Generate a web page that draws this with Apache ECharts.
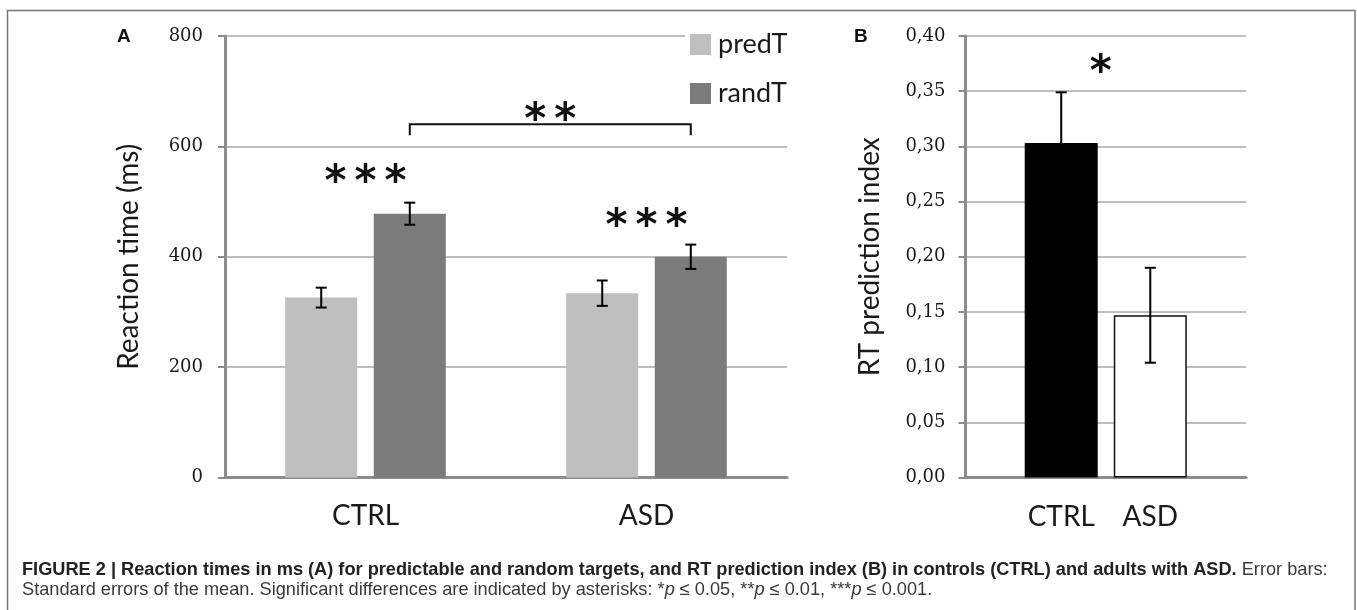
<!DOCTYPE html>
<html>
<head>
<meta charset="utf-8">
<script src="https://cdn.jsdelivr.net/npm/echarts@6/dist/echarts.min.js"></script>
<style>
  html, body { margin: 0; padding: 0; background: #fff; }
  #chart { width: 1357px; height: 610px; }
</style>
</head>
<body>
<div id="chart"></div>
<script>
// ---------- Data (panel A) ----------
const categories = ['CTRL', 'ASD'];
const predT = [326, 334];
const randT = [478, 400];
const predTErr = [18, 23];
const randTErr = [20, 22];
const groupStars = ['***', '***'];
const groupStarLevel = [553, 473];
const bracketLevel = 640;
const bracketFoot = 620;
const bracketStars = '**';
const bracketStarLevel = 666;

// ---------- Data (panel B) ----------
const groupsB = ['CTRL', 'ASD'];
const indexB = [0.303, 0.147];
const indexBErr = [0.046, 0.043];
const starB = '*';
const starBLevel = 0.376;

// ---------- Styles ----------
const AX = '#8c8c8c';
const GRID = '#a9a9a9';
const TXT = '#1a1a1a';
const LBL_FONT = 'Lato, "Open Sans", sans-serif';
const NUM_FONT = '"DejaVu Serif", serif';
const CAP_FONT = '"Liberation Sans", Arial, sans-serif';
const LETTER_FONT = '"Liberation Sans", Arial, sans-serif';
const BW_A = 72, GAP_A = 0.23;
const BW_B = 73, GAP_B = 0.22;
const OFF_A = (BW_A * (1 + GAP_A)) / 2;
const OFF_B = (BW_B * (1 + GAP_B)) / 2;
const STAR_FONT = 'bold 42px "DejaVu Sans"';
const STAR_STEP = 30;
const STAR_DY = 12;

function starTexts(str, cx, cy) {
  const n = str.length;
  const out = [];
  for (let i = 0; i < n; i++) {
    out.push({
      type: 'text',
      style: {
        text: '*', x: cx + (i - (n - 1) / 2) * STAR_STEP, y: cy + STAR_DY,
        textAlign: 'center', textVerticalAlign: 'middle',
        font: STAR_FONT, fill: '#111'
      }
    });
  }
  return out;
}

function errorSeries(xi, yi, values, errs, offset) {
  return {
    type: 'custom',
    xAxisIndex: xi, yAxisIndex: yi,
    z: 5,
    silent: true,
    data: values.map((v, i) => [i, v, errs[i]]),
    renderItem: function (params, api) {
      const c = api.value(0), v = api.value(1), e = api.value(2);
      const hi = api.coord([c, v + e]);
      const lo = api.coord([c, v - e]);
      const x = hi[0] + offset;
      const cap = 5.5;
      const st = { stroke: '#000', lineWidth: 2 };
      return {
        type: 'group',
        children: [
          { type: 'line', shape: { x1: x, y1: hi[1], x2: x, y2: lo[1] }, style: st },
          { type: 'line', shape: { x1: x - cap, y1: hi[1], x2: x + cap, y2: hi[1] }, style: st },
          { type: 'line', shape: { x1: x - cap, y1: lo[1], x2: x + cap, y2: lo[1] }, style: st }
        ]
      };
    }
  };
}

function errorSeriesB(values, errs) {
  return {
    type: 'custom',
    xAxisIndex: 1, yAxisIndex: 1,
    z: 5,
    silent: true,
    data: values.map((v, i) => [0, v, errs[i], i]),
    renderItem: function (params, api) {
      const v = api.value(1), e = api.value(2), k = api.value(3);
      const hi = api.coord([0, v + e]);
      const lo = api.coord([0, v - e]);
      const x = hi[0] + (k === 0 ? -OFF_B : OFF_B);
      const cap = 5.5;
      const st = { stroke: '#000', lineWidth: 2 };
      return {
        type: 'group',
        children: [
          { type: 'line', shape: { x1: x, y1: hi[1], x2: x, y2: lo[1] }, style: st },
          { type: 'line', shape: { x1: x - cap, y1: hi[1], x2: x + cap, y2: hi[1] }, style: st },
          { type: 'line', shape: { x1: x - cap, y1: lo[1], x2: x + cap, y2: lo[1] }, style: st }
        ]
      };
    }
  };
}

const chart = echarts.init(document.getElementById('chart'), null, { renderer: 'canvas' });

const yAxisBase = {
  type: 'value',
  axisLine: { show: true, lineStyle: { color: AX, width: 3 } },
  axisTick: { show: true, length: 7, lineStyle: { color: AX, width: 2 } },
  splitLine: { show: true, lineStyle: { color: GRID, width: 1.5 } },
  nameLocation: 'middle',
  nameGap: 82,
  nameTextStyle: { fontFamily: LBL_FONT, fontSize: 28, color: TXT }
};

const CAP_SIZE = 18.2;
const capRich = {
  b: { fontFamily: CAP_FONT, fontWeight: 'bold', fontSize: CAP_SIZE, color: '#222', lineHeight: 20 },
  r: { fontFamily: CAP_FONT, fontWeight: 'normal', fontSize: CAP_SIZE, color: '#3a3a3a', lineHeight: 20 },
  i: { fontFamily: CAP_FONT, fontWeight: 'normal', fontStyle: 'italic', fontSize: CAP_SIZE, color: '#3a3a3a', lineHeight: 20 }
};

const option = {
  backgroundColor: '#fff',
  animation: false,
  title: [
    { text: 'A', left: 117, top: 27, padding: 0,
      textStyle: { fontFamily: LETTER_FONT, fontWeight: 'bold', fontSize: 19, color: '#111' } },
    { text: 'B', left: 854, top: 27, padding: 0,
      textStyle: { fontFamily: LETTER_FONT, fontWeight: 'bold', fontSize: 19, color: '#111' } },
    {
      left: 22, top: 560, padding: 0,
      text: '{b|FIGURE 2 | Reaction times in ms (A) for predictable and random targets, and RT prediction index (B) in controls (CTRL) and adults with ASD.}{r| Error bars:}\n' +
            '{r|Standard errors of the mean. Significant differences are indicated by asterisks: *}{i|p}{r| ≤ 0.05, **}{i|p}{r| ≤ 0.01, ***}{i|p}{r| ≤ 0.001.}',
      textStyle: { fontWeight: 'normal', lineHeight: 20, rich: capRich }
    }
  ],
  legend: {
    data: ['predT', 'randT'],
    orient: 'vertical',
    left: 685, top: 26,
    padding: 5,
    backgroundColor: '#fff',
    itemWidth: 21, itemHeight: 21, itemGap: 22,
    icon: 'rect',
    textStyle: { fontFamily: LBL_FONT, fontSize: 27, color: TXT, padding: [0, 0, 0, 2] },
    selectedMode: false
  },
  grid: [
    { left: 225, right: 570, top: 36, bottom: 132.5 },
    { left: 965.5, right: 111, top: 36, bottom: 132.5 }
  ],
  xAxis: [
    {
      gridIndex: 0, type: 'category', data: categories,
      axisLine: { lineStyle: { color: AX, width: 3 } },
      axisTick: { show: false },
      axisLabel: { fontFamily: LBL_FONT, fontSize: 28, color: TXT, margin: 24 }
    },
    {
      gridIndex: 1, type: 'category', data: [''],
      axisLine: { lineStyle: { color: AX, width: 3 } },
      axisTick: { show: false },
      axisLabel: { show: false }
    }
  ],
  yAxis: [
    Object.assign({}, yAxisBase, {
      gridIndex: 0, min: 0, max: 800, interval: 200,
      name: 'Reaction time (ms)',
      axisLabel: { fontFamily: NUM_FONT, fontSize: 18, color: TXT, margin: 22 }
    }),
    Object.assign({}, yAxisBase, {
      gridIndex: 1, min: 0, max: 0.4, interval: 0.05,
      name: 'RT prediction index',
      axisLabel: {
        fontFamily: NUM_FONT, fontSize: 18, color: TXT, margin: 20,
        formatter: v => v.toFixed(2).replace('.', ',')
      }
    })
  ],
  series: [
    {
      name: 'predT', type: 'bar', xAxisIndex: 0, yAxisIndex: 0,
      data: predT, barWidth: BW_A, barGap: (GAP_A * 100) + '%',
      itemStyle: { color: '#bfbfbf' }
    },
    {
      name: 'randT', type: 'bar', xAxisIndex: 0, yAxisIndex: 0,
      data: randT, barWidth: BW_A, barGap: (GAP_A * 100) + '%',
      itemStyle: { color: '#7b7b7b' }
    },
    errorSeries(0, 0, predT, predTErr, -OFF_A),
    errorSeries(0, 0, randT, randTErr, OFF_A),
    {
      type: 'custom', xAxisIndex: 0, yAxisIndex: 0, z: 6, silent: true,
      data: groupStars.map((s, i) => [i, groupStarLevel[i]]),
      renderItem: function (params, api) {
        const p = api.coord([api.value(0), api.value(1)]);
        return { type: 'group', children: starTexts(groupStars[params.dataIndex], p[0], p[1]) };
      }
    },
    {
      type: 'custom', xAxisIndex: 0, yAxisIndex: 0, z: 6, silent: true,
      data: [[0, 1, bracketLevel, bracketFoot, bracketStarLevel]],
      renderItem: function (params, api) {
        const a = api.coord([api.value(0), api.value(2)]);
        const b = api.coord([api.value(1), api.value(2)]);
        const f = api.coord([api.value(0), api.value(3)]);
        const s = api.coord([api.value(0), api.value(4)]);
        const x1 = a[0] + OFF_A, x2 = b[0] + OFF_A, y = a[1], yf = f[1];
        return {
          type: 'group',
          children: [
            { type: 'polyline', shape: { points: [[x1, yf], [x1, y], [x2, y], [x2, yf]] },
              style: { stroke: '#111', lineWidth: 2, fill: 'none' } }
          ].concat(starTexts(bracketStars, (x1 + x2) / 2, s[1]))
        };
      }
    },
    {
      name: groupsB[0], type: 'bar', xAxisIndex: 1, yAxisIndex: 1,
      data: [indexB[0]], barWidth: BW_B, barGap: (GAP_B * 100) + '%',
      itemStyle: { color: '#000' },
      label: { show: true, position: 'bottom', distance: 25, formatter: groupsB[0],
               fontFamily: LBL_FONT, fontSize: 28, color: TXT }
    },
    {
      name: groupsB[1], type: 'bar', xAxisIndex: 1, yAxisIndex: 1,
      data: [indexB[1]], barWidth: BW_B, barGap: (GAP_B * 100) + '%',
      itemStyle: { color: '#fff', borderColor: '#111', borderWidth: 1.5 },
      label: { show: true, position: 'bottom', distance: 25, formatter: groupsB[1],
               fontFamily: LBL_FONT, fontSize: 28, color: TXT }
    },
    errorSeriesB(indexB, indexBErr),
    {
      type: 'custom', xAxisIndex: 1, yAxisIndex: 1, z: 6, silent: true,
      data: [[0, starBLevel]],
      renderItem: function (params, api) {
        const p = api.coord([api.value(0), api.value(1)]);
        return { type: 'group', children: starTexts(starB, p[0] - 5, p[1]) };
      }
    }
  ],
  graphic: [
    { type: 'rect', silent: true, z: 100,
      shape: { x: 7.5, y: 10.5, width: 1347.5, height: 640 },
      style: { fill: 'none', stroke: '#777', lineWidth: 1.5 } }
  ]
};

chart.setOption(option);
</script>
</body>
</html>
